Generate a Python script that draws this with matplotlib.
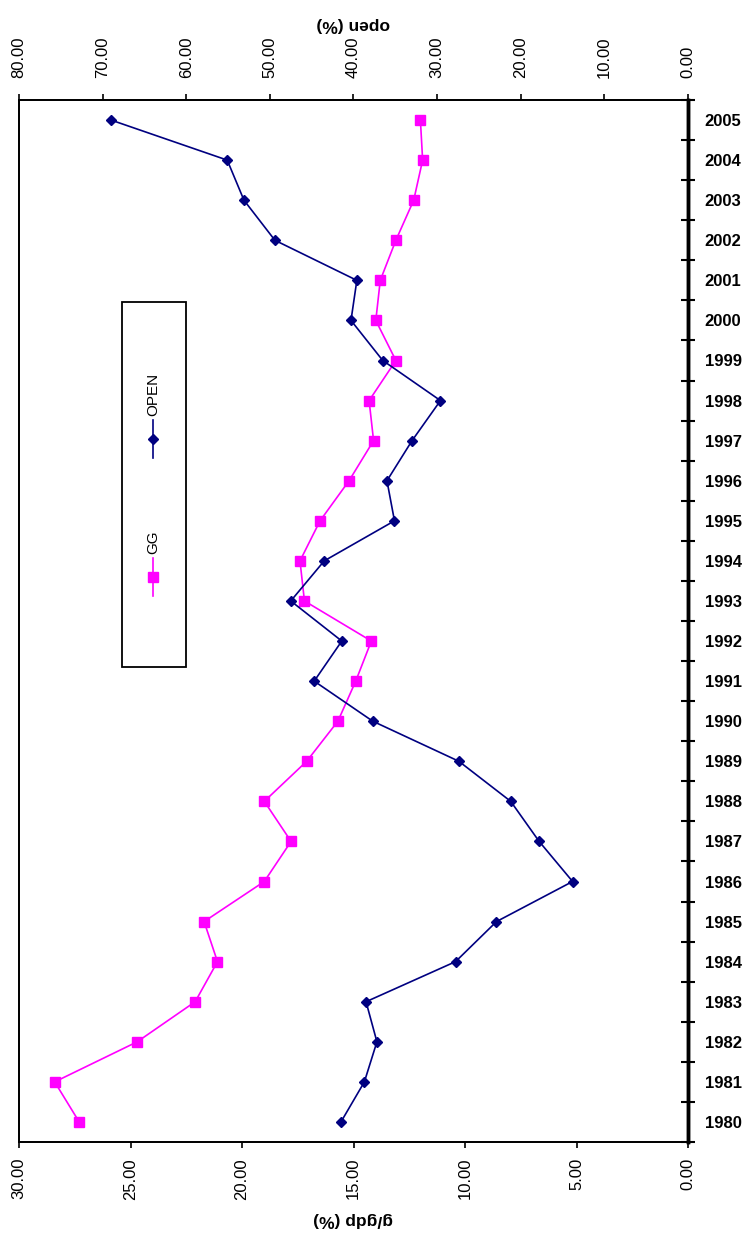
import matplotlib
matplotlib.use("Agg")
import matplotlib.pyplot as plt
from matplotlib.ticker import FormatStrFormatter, FixedLocator
from matplotlib.lines import Line2D
from matplotlib.patches import Rectangle

plt.rcParams['font.family'] = ['Liberation Sans', 'DejaVu Sans']

# ---------------- data ----------------
years = list(range(1980, 2006))
gg = [27.3, 28.4, 24.7, 22.1, 21.1, 21.7, 19.0, 17.8, 19.0, 17.1,
      15.7, 14.9, 14.2, 17.2, 17.4, 16.5, 15.2, 14.1, 14.3, 13.1,
      14.0, 13.8, 13.1, 12.3, 11.9, 12.0]
open_ = [41.5, 38.7, 37.2, 38.5, 27.8, 22.9, 13.8, 17.8, 21.2, 27.4,
         37.7, 44.7, 41.4, 47.5, 43.5, 35.1, 36.0, 33.0, 29.6, 36.5,
         40.3, 39.6, 49.4, 53.1, 55.1, 69.0]
gg_ticks = [0, 5, 10, 15, 20, 25, 30]
open_ticks = [0, 10, 20, 30, 40, 50, 60, 70, 80]
series_names = ["GG", "OPEN"]
gg_label = "g/gdp (%)"
open_label = "open (%)"

NAVY = "#000080"
MAG = "#FF00FF"

W, H = 749, 1235
fig = plt.figure(figsize=(W / 100, H / 100), dpi=100)

L, R, T, B = 19, 688, 100, 1142
ax = fig.add_axes([L / W, 1 - B / H, (R - L) / W, (B - T) / H])

ax.plot(gg, years, color=MAG, lw=1.2, marker='s', ms=7, mec=MAG, mfc=MAG, zorder=3)
ax.set_xlim(max(gg_ticks), min(gg_ticks))
ax.set_ylim(min(years) - 0.5, max(years) + 0.5)

ax2 = ax.twiny()
ax2.plot(open_, years, color=NAVY, lw=1.2, marker='D', ms=5.5, mec=NAVY, mfc=NAVY, zorder=3)
ax2.set_xlim(max(open_ticks), min(open_ticks))
ax2.set_ylim(min(years) - 0.5, max(years) + 0.5)

# bottom axis (g/gdp)
ax.xaxis.set_major_locator(FixedLocator(gg_ticks))
ax.xaxis.set_major_formatter(FormatStrFormatter('%.2f'))
ax.tick_params(axis='x', direction='out', length=4.5, width=1.2, pad=7,
               labelsize=12, labelrotation=90)
ax.set_xlabel(gg_label, rotation=180, fontsize=12.5, fontweight='bold', labelpad=9)

# top axis (open)
ax2.xaxis.set_major_locator(FixedLocator(open_ticks))
ax2.xaxis.set_major_formatter(FormatStrFormatter('%.2f'))
ax2.tick_params(axis='x', direction='out', length=4, width=1.2, pad=12,
                labelsize=12, labelrotation=90)
ax2.set_xlabel(open_label, rotation=180, fontsize=12.5, fontweight='bold', labelpad=5)

# year axis on the right
ax.yaxis.tick_right()
ax.yaxis.set_major_locator(FixedLocator(years))
ax.yaxis.set_minor_locator(FixedLocator([y - 0.5 for y in years] + [years[-1] + 0.5]))
ax.tick_params(axis='y', which='major', length=0, pad=12, labelsize=12)
ax.tick_params(axis='y', which='minor', direction='inout', length=10, width=1.5)
for lab in ax.get_yticklabels():
    lab.set_fontweight('bold')
ax.tick_params(axis='y', which='both', left=False, labelleft=False)
ax2.tick_params(axis='y', which='both', left=False, right=False,
                labelleft=False, labelright=False)

for a in (ax, ax2):
    for s in ('top', 'bottom', 'left'):
        a.spines[s].set_linewidth(1.3)
    a.spines['right'].set_linewidth(2.5)

# legend (rotated, drawn by hand)
tf = fig.transFigure
def fx(px):
    return px / W
def fy(py):
    return 1 - py / H

fig.patches.append(Rectangle((fx(122), fy(667)), fx(186) - fx(122), fy(302) - fy(667),
                             transform=tf, fill=False, ec='black', lw=1.3, zorder=5))
# GG entry
fig.lines.append(Line2D([fx(153), fx(153)], [fy(596), fy(558)], transform=tf,
                        color=MAG, lw=1.2, zorder=6))
fig.lines.append(Line2D([fx(153)], [fy(577)], transform=tf, color=MAG, marker='s',
                        ms=7, mec=MAG, mfc=MAG, zorder=6))
fig.text(fx(153), fy(554), series_names[0], rotation=90, ha='center', va='bottom',
         fontsize=11)
# OPEN entry
fig.lines.append(Line2D([fx(153), fx(153)], [fy(458), fy(420)], transform=tf,
                        color=NAVY, lw=1.2, zorder=6))
fig.lines.append(Line2D([fx(153)], [fy(439)], transform=tf, color=NAVY, marker='D',
                        ms=5.5, mec=NAVY, mfc=NAVY, zorder=6))
fig.text(fx(153), fy(416), series_names[1], rotation=90, ha='center', va='bottom',
         fontsize=11)

fig.savefig("out.png", dpi=100)
